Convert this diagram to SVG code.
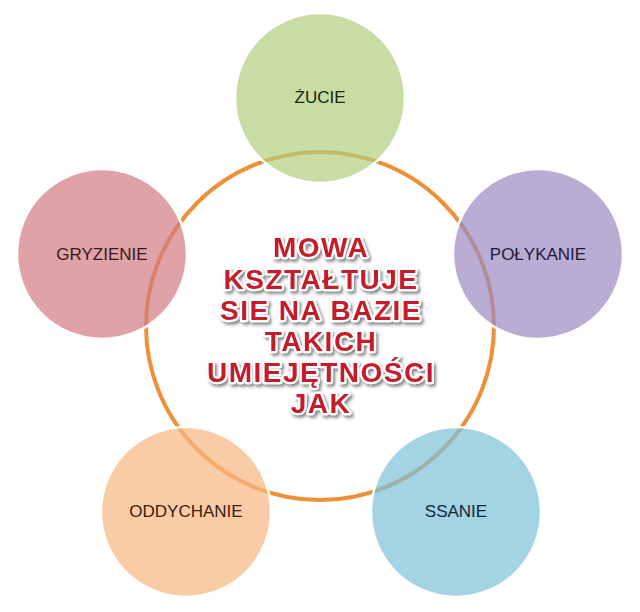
<svg xmlns="http://www.w3.org/2000/svg" width="640" height="612" viewBox="0 0 640 612">
<style>
.node{stroke:#ffffff;stroke-width:2.5;fill-opacity:0.7}
.lbl{font-family:"Liberation Sans",Arial,sans-serif;font-size:17px;text-anchor:middle}
.title{font-family:"Liberation Sans",Arial,sans-serif;font-weight:bold;font-size:28px;letter-spacing:1.5px;text-anchor:middle;fill:#C41E2A;stroke:#ffffff;stroke-width:4.5;paint-order:stroke;stroke-linejoin:round}
</style>
<defs>
<filter id="sh" x="-10%" y="-10%" width="120%" height="130%">
<feDropShadow dx="2" dy="2.5" stdDeviation="1.5" flood-color="#444444" flood-opacity="0.65"/>
</filter>
</defs>
<rect width="640" height="612" fill="#ffffff"/>
<g id="connectors">
<circle cx="320" cy="326" r="174" fill="none" stroke="#EE9038" stroke-width="4"/>
</g>
<g id="node-zucie">
<circle class="node" cx="320" cy="98" r="85" fill="#B0CD7E"/>
<text class="lbl" x="320" y="103" fill="#1b2610">ŻUCIE</text>
</g>
<g id="node-polykanie">
<circle class="node" cx="538" cy="254" r="85" fill="#9B8AC0"/>
<text class="lbl" x="538" y="260" fill="#1f1a3a">POŁYKANIE</text>
</g>
<g id="node-ssanie">
<circle class="node" cx="456" cy="512" r="85" fill="#7EC0D7"/>
<text class="lbl" x="456" y="517" fill="#10283a">SSANIE</text>
</g>
<g id="node-oddychanie">
<circle class="node" cx="186" cy="512" r="85" fill="#F8B780"/>
<text class="lbl" x="186" y="517" fill="#3a2010">ODDYCHANIE</text>
</g>
<g id="node-gryzienie">
<circle class="node" cx="102" cy="254" r="85" fill="#D17A80"/>
<text class="lbl" x="102" y="260" fill="#3a1a1a">GRYZIENIE</text>
</g>
<g id="center" filter="url(#sh)">
<text class="title" x="321" y="257">MOWA</text>
<text class="title" x="321" y="289">KSZTAŁTUJE</text>
<text class="title" x="321" y="320">SIE NA BAZIE</text>
<text class="title" x="321" y="351">TAKICH</text>
<text class="title" x="321" y="382">UMIEJĘTNOŚCI</text>
<text class="title" x="321" y="413">JAK</text>
</g>
</svg>
